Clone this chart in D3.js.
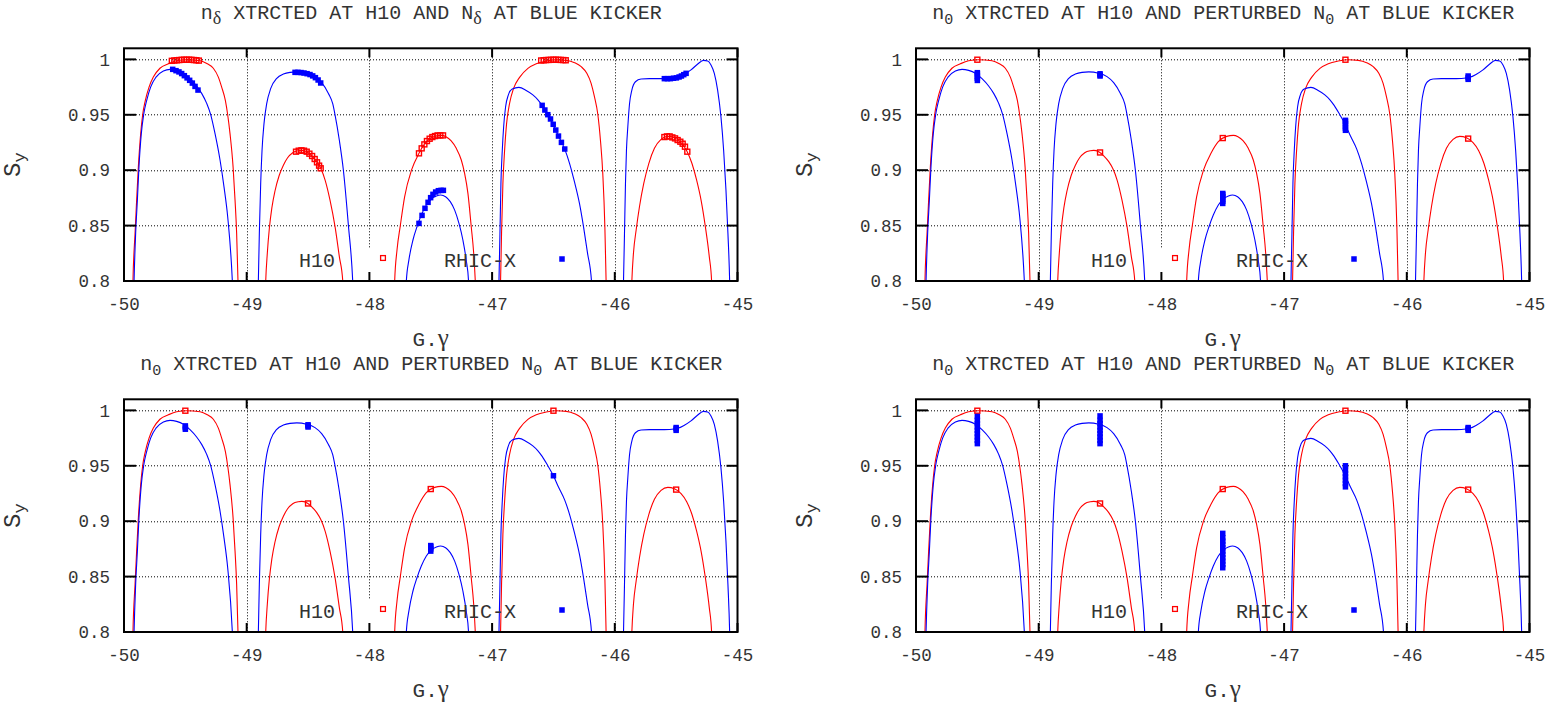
<!DOCTYPE html>
<html><head><meta charset="utf-8">
<script src="https://cdn.jsdelivr.net/npm/d3@7"></script>
<style>
body{margin:0;background:#fff;}
svg{display:block;}
text{font-family:"Liberation Mono","Courier New",monospace;fill:#333;}
</style>
</head><body>
<svg id="chart" width="1546" height="706"></svg>
<script>
// ---------------- DATA ----------------
const xTicks = [-50, -49, -48, -47, -46, -45];
const xTickLabels = ["-50", "-49", "-48", "-47", "-46", "-45"];
const yTicks = [0.8, 0.85, 0.9, 0.95, 1];
const yTickLabels = ["0.8", "0.85", "0.9", "0.95", "1"];
const seriesNames = ["H10", "RHIC-X"];
const xLabel = ["G.", "γ"];
const yLabel = ["S", "y"];

// titles: [text, isSubscript]
const titleDelta = [["n", 0], ["δ", 1], [" XTRCTED AT H10 AND N", 0], ["δ", 1], [" AT BLUE KICKER", 0]];
const titleZero = [["n", 0], ["0", 1], [" XTRCTED AT H10 AND PERTURBED N", 0], ["0", 1], [" AT BLUE KICKER", 0]];

// H10 (red) spin curves, one per arch
const h10Arch1 = [[-49.929,0.79],[-49.927,0.80],[-49.910,0.843],[-49.897,0.873],[-49.883,0.903],[-49.864,0.933],[-49.848,0.950],[-49.826,0.963],[-49.796,0.975],[-49.761,0.984],[-49.707,0.992],[-49.639,0.996],[-49.571,0.9988],[-49.489,0.9997],[-49.380,0.9988],[-49.321,0.996],[-49.272,0.992],[-49.231,0.984],[-49.204,0.975],[-49.174,0.963],[-49.155,0.950],[-49.136,0.933],[-49.111,0.903],[-49.095,0.873],[-49.082,0.843],[-49.071,0.800],[-49.069,0.79]];
const h10Arch2 = [[-48.848,0.79],[-48.845,0.80],[-48.832,0.825],[-48.815,0.848],[-48.795,0.866],[-48.770,0.881],[-48.736,0.895],[-48.701,0.9045],[-48.668,0.911],[-48.625,0.9158],[-48.579,0.9176],[-48.552,0.9179],[-48.511,0.9167],[-48.470,0.913],[-48.429,0.9077],[-48.397,0.9017],[-48.361,0.8911],[-48.321,0.873],[-48.280,0.849],[-48.245,0.822],[-48.217,0.800],[-48.212,0.79]];
const h10Arch3 = [[-47.797,0.79],[-47.794,0.80],[-47.775,0.828],[-47.748,0.85],[-47.713,0.876],[-47.657,0.900],[-47.596,0.9152],[-47.536,0.9257],[-47.468,0.9305],[-47.414,0.9314],[-47.376,0.9302],[-47.335,0.9266],[-47.292,0.9197],[-47.251,0.9092],[-47.224,0.8971],[-47.197,0.8791],[-47.170,0.849],[-47.150,0.825],[-47.137,0.800],[-47.133,0.79]];
const h10Arch4 = [[-46.934,0.79],[-46.931,0.80],[-46.923,0.843],[-46.912,0.888],[-46.898,0.918],[-46.882,0.942],[-46.858,0.960],[-46.825,0.9738],[-46.776,0.9838],[-46.708,0.9919],[-46.640,0.9961],[-46.559,0.9985],[-46.477,0.9997],[-46.396,0.9991],[-46.328,0.997],[-46.274,0.9934],[-46.228,0.9874],[-46.193,0.9783],[-46.166,0.9663],[-46.138,0.950],[-46.117,0.927],[-46.098,0.897],[-46.081,0.849],[-46.071,0.800],[-46.069,0.79]];
const h10Arch5 = [[-45.864,0.79],[-45.861,0.80],[-45.848,0.825],[-45.826,0.846],[-45.799,0.867],[-45.764,0.888],[-45.723,0.906],[-45.677,0.9197],[-45.623,0.9278],[-45.568,0.9305],[-45.514,0.9293],[-45.460,0.9248],[-45.414,0.9176],[-45.371,0.906],[-45.333,0.891],[-45.297,0.873],[-45.262,0.849],[-45.230,0.822],[-45.211,0.800],[-45.208,0.79]];

// RHIC-X (blue) spin curves
const rhicArch1 = [[-49.920,0.79],[-49.918,0.80],[-49.905,0.843],[-49.891,0.873],[-49.878,0.903],[-49.859,0.933],[-49.840,0.950],[-49.815,0.963],[-49.783,0.975],[-49.739,0.984],[-49.679,0.9895],[-49.625,0.991],[-49.571,0.9901],[-49.516,0.9875],[-49.462,0.9826],[-49.408,0.976],[-49.367,0.9693],[-49.326,0.9603],[-49.293,0.950],[-49.258,0.933],[-49.217,0.909],[-49.185,0.885],[-49.155,0.858],[-49.117,0.800],[-49.113,0.79]];
const rhicArch2 = [[-48.907,0.79],[-48.905,0.80],[-48.897,0.843],[-48.886,0.888],[-48.875,0.918],[-48.859,0.942],[-48.837,0.960],[-48.804,0.9738],[-48.755,0.9829],[-48.701,0.9868],[-48.647,0.9883],[-48.592,0.9887],[-48.511,0.9875],[-48.443,0.9844],[-48.389,0.979],[-48.334,0.9693],[-48.299,0.960],[-48.280,0.950],[-48.245,0.927],[-48.212,0.900],[-48.171,0.850],[-48.136,0.800],[-48.132,0.79]];
const rhicArch3 = [[-47.702,0.79],[-47.699,0.80],[-47.678,0.819],[-47.645,0.837],[-47.612,0.849],[-47.577,0.8595],[-47.536,0.8686],[-47.495,0.874],[-47.454,0.8767],[-47.419,0.8776],[-47.379,0.8761],[-47.341,0.8716],[-47.305,0.864],[-47.270,0.852],[-47.238,0.837],[-47.211,0.819],[-47.192,0.800],[-47.189,0.79]];
const rhicArch4 = [[-46.946,0.79],[-46.944,0.80],[-46.936,0.843],[-46.928,0.888],[-46.917,0.918],[-46.906,0.939],[-46.890,0.9573],[-46.868,0.9678],[-46.836,0.9732],[-46.782,0.9747],[-46.722,0.9720],[-46.668,0.9680],[-46.630,0.9640],[-46.592,0.9585],[-46.546,0.9501],[-46.502,0.9414],[-46.459,0.9308],[-46.408,0.919],[-46.369,0.9062],[-46.329,0.8896],[-46.288,0.870],[-46.255,0.849],[-46.222,0.825],[-46.190,0.800],[-46.187,0.79]];
const rhicArch5 = [[-45.931,0.79],[-45.929,0.80],[-45.921,0.843],[-45.913,0.888],[-45.905,0.918],[-45.894,0.939],[-45.880,0.960],[-45.861,0.9723],[-45.832,0.9798],[-45.786,0.9823],[-45.718,0.9826],[-45.637,0.9826],[-45.555,0.9828],[-45.487,0.9838],[-45.433,0.9866],[-45.379,0.9905],[-45.324,0.9958],[-45.278,0.9991],[-45.243,0.9985],[-45.216,0.9949],[-45.189,0.9874],[-45.162,0.9723],[-45.135,0.9483],[-45.113,0.918],[-45.094,0.882],[-45.078,0.843],[-45.064,0.800],[-45.062,0.79]];

// Panel 1 (n_delta) extracted points
const p1H10 = [[-49.61,0.9987],[-49.59,0.9990],[-49.57,0.9992],[-49.55,0.9994],[-49.53,0.9996],[-49.51,0.9997],[-49.49,0.9997],[-49.47,0.9997],[-49.45,0.9996],[-49.43,0.9994],[-49.41,0.9992],[-49.39,0.9989],
  [-48.598,0.9167],[-48.576,0.9176],[-48.554,0.9179],[-48.533,0.9176],[-48.511,0.9167],[-48.489,0.9149],[-48.467,0.9128],[-48.446,0.9101],[-48.427,0.9071],[-48.410,0.9041],[-48.397,0.9017],
  [-47.596,0.9152],[-47.574,0.9197],[-47.552,0.9233],[-47.531,0.9263],[-47.509,0.9284],[-47.487,0.9299],[-47.465,0.9308],[-47.444,0.9314],[-47.422,0.9314],[-47.400,0.9314],
  [-46.60,0.9990],[-46.58,0.9992],[-46.56,0.9994],[-46.54,0.9995],[-46.52,0.9996],[-46.50,0.9997],[-46.48,0.9997],[-46.46,0.9996],[-46.44,0.9995],[-46.42,0.9994],[-46.40,0.9992],
  [-45.596,0.9299],[-45.575,0.9305],[-45.553,0.9305],[-45.531,0.9296],[-45.509,0.9287],[-45.488,0.9272],[-45.466,0.9257],[-45.447,0.9239],[-45.428,0.9212],[-45.409,0.9167]];
const p1Rhic = [[-49.603,0.9910],[-49.576,0.9898],[-49.552,0.9887],[-49.530,0.9872],[-49.508,0.9853],[-49.486,0.9833],[-49.465,0.9811],[-49.443,0.9786],[-49.421,0.9756],[-49.397,0.9723],
  [-48.606,0.9883],[-48.582,0.9883],[-48.557,0.9881],[-48.533,0.9877],[-48.508,0.9871],[-48.484,0.9863],[-48.462,0.9851],[-48.440,0.9835],[-48.418,0.9814],[-48.397,0.9787],
  [-47.596,0.8520],[-47.571,0.8592],[-47.547,0.8656],[-47.522,0.8710],[-47.501,0.8752],[-47.482,0.8782],[-47.460,0.8803],[-47.438,0.8815],[-47.416,0.8818],[-47.397,0.8818],
  [-46.592,0.9585],[-46.570,0.9543],[-46.546,0.9501],[-46.524,0.9462],[-46.502,0.9414],[-46.481,0.9362],[-46.459,0.9308],[-46.435,0.9251],[-46.408,0.9191],
  [-45.596,0.9826],[-45.571,0.9826],[-45.547,0.9826],[-45.522,0.9830],[-45.498,0.9833],[-45.476,0.9841],[-45.457,0.9850],[-45.438,0.9862],[-45.419,0.9874]];

// Panels 2-4 (n_0, perturbed N_0) extracted points
const pH10Single = [[-49.5,0.9997],[-48.5,0.916],[-47.5,0.929],[-46.5,0.9997],[-45.5,0.9285]];
const p2Rhic = [[-49.5,0.981],[-49.5,0.983],[-49.5,0.985],[-49.5,0.987],[-49.5,0.988],
  [-48.5,0.985],[-48.5,0.986],[-48.5,0.987],
  [-47.5,0.870],[-47.5,0.872],[-47.5,0.874],[-47.5,0.876],[-47.5,0.878],[-47.5,0.879],
  [-46.5,0.936],[-46.5,0.938],[-46.5,0.940],[-46.5,0.942],[-46.5,0.944],[-46.5,0.945],
  [-45.5,0.982],[-45.5,0.9835],[-45.5,0.985]];
const p3Rhic = [[-49.5,0.983],[-49.5,0.9845],[-49.5,0.986],
  [-48.5,0.985],[-48.5,0.986],[-48.5,0.987],
  [-47.5,0.873],[-47.5,0.875],[-47.5,0.877],[-47.5,0.878],
  [-46.5,0.941],
  [-45.5,0.982],[-45.5,0.9835],[-45.5,0.9845]];
const p4Rhic = [[-49.5,0.970],[-49.5,0.973],[-49.5,0.976],[-49.5,0.979],[-49.5,0.982],[-49.5,0.985],[-49.5,0.988],[-49.5,0.991],[-49.5,0.9945],
  [-48.5,0.970],[-48.5,0.973],[-48.5,0.976],[-48.5,0.979],[-48.5,0.982],[-48.5,0.985],[-48.5,0.988],[-48.5,0.991],[-48.5,0.995],
  [-47.5,0.858],[-47.5,0.861],[-47.5,0.864],[-47.5,0.867],[-47.5,0.870],[-47.5,0.873],[-47.5,0.876],[-47.5,0.879],[-47.5,0.882],[-47.5,0.885],[-47.5,0.889],
  [-46.5,0.931],[-46.5,0.934],[-46.5,0.937],[-46.5,0.940],[-46.5,0.943],[-46.5,0.946],[-46.5,0.950],
  [-45.5,0.982],[-45.5,0.9835],[-45.5,0.9845]];

// ---------------- LAYOUT / STYLE ----------------
const h10Arches = [h10Arch1, h10Arch2, h10Arch3, h10Arch4, h10Arch5];
const rhicArches = [rhicArch1, rhicArch2, rhicArch3, rhicArch4, rhicArch5];
const panels = [
  {left:124, top:48.3, title:titleDelta, h10:p1H10, rhic:p1Rhic},
  {left:916, top:48.3, title:titleZero, h10:pH10Single, rhic:p2Rhic},
  {left:124, top:399.3, title:titleZero, h10:pH10Single, rhic:p3Rhic},
  {left:916, top:399.3, title:titleZero, h10:pH10Single, rhic:p4Rhic}
];
const PW = 613.5, PH = 232.7;
const RED = "#ff0000", BLUE = "#0000ff";
const SERIF = "'Liberation Serif','DejaVu Serif',serif";

const svg = d3.select("#chart");

panels.forEach((p, i) => {
  const g = svg.append("g").attr("transform", `translate(${p.left},${p.top})`);
  const x = d3.scaleLinear().domain([-50, -45]).range([0, PW]);
  const y = d3.scaleLinear().domain([0.8, 1.01]).range([PH, 0]);

  const clipId = "clip" + i;
  g.append("clipPath").attr("id", clipId).append("rect").attr("width", PW).attr("height", PH);

  // grid
  const grid = g.append("g").attr("stroke", "#000").attr("stroke-width", 1).attr("stroke-dasharray", "1,2");
  grid.selectAll("line.h").data(yTicks.filter(v => v > 0.8 && v < 1.01)).join("line")
    .attr("x1", 0).attr("x2", PW).attr("y1", d => Math.round(y(d)) + 0.5).attr("y2", d => Math.round(y(d)) + 0.5);
  grid.selectAll("line.v").data(xTicks.filter(v => v > -50 && v < -45)).join("line")
    .attr("y1", 0).attr("y2", PH).attr("x1", d => Math.round(x(d)) + 0.5).attr("x2", d => Math.round(x(d)) + 0.5);

  // opaque key box
  g.append("rect").attr("x", 165).attr("y", PH - 33).attr("width", 305).attr("height", 33).attr("fill", "#fff");

  const line = d3.line().x(d => x(d[0])).y(d => y(d[1])).curve(d3.curveMonotoneX);
  const curves = g.append("g").attr("clip-path", `url(#${clipId})`).attr("fill", "none").attr("stroke-width", 1.1);
  curves.selectAll("path.r").data(h10Arches).join("path").attr("stroke", RED).attr("d", line);
  curves.selectAll("path.b").data(rhicArches).join("path").attr("stroke", BLUE).attr("d", line);

  // markers
  const mk = g.append("g");
  mk.selectAll("rect.r").data(p.h10).join("rect")
    .attr("x", d => x(d[0]) - 2.5).attr("y", d => y(d[1]) - 2.5)
    .attr("width", 5).attr("height", 5).attr("fill", "none").attr("stroke", RED).attr("stroke-width", 1.4);
  mk.selectAll("rect.b").data(p.rhic).join("rect")
    .attr("x", d => x(d[0]) - 2.75).attr("y", d => y(d[1]) - 2.75)
    .attr("width", 5.5).attr("height", 5.5).attr("fill", BLUE);

  // key
  g.append("text").attr("x", 211).attr("y", PH - 14).attr("text-anchor", "end").style("font-size", "20px").text(seriesNames[0]);
  g.append("rect").attr("x", 259 - 2.4).attr("y", PH - 23 - 2.4).attr("width", 4.8).attr("height", 4.8)
    .attr("fill", "none").attr("stroke", RED).attr("stroke-width", 1.3);
  g.append("text").attr("x", 392).attr("y", PH - 14).attr("text-anchor", "end").style("font-size", "20px").text(seriesNames[1]);
  g.append("rect").attr("x", 438 - 2.75).attr("y", PH - 22 - 2.75).attr("width", 5.5).attr("height", 5.5).attr("fill", BLUE);

  // border
  g.append("rect").attr("width", PW).attr("height", PH).attr("fill", "none").attr("stroke", "#000").attr("stroke-width", 2);

  // ticks (mirrored, inward)
  const tk = g.append("g").attr("stroke", "#000").attr("stroke-width", 2);
  xTicks.forEach(v => {
    tk.append("line").attr("x1", x(v)).attr("x2", x(v)).attr("y1", PH).attr("y2", PH - 9);
    tk.append("line").attr("x1", x(v)).attr("x2", x(v)).attr("y1", 0).attr("y2", 9);
  });
  yTicks.forEach(v => {
    tk.append("line").attr("y1", y(v)).attr("y2", y(v)).attr("x1", 0).attr("x2", 12);
    tk.append("line").attr("y1", y(v)).attr("y2", y(v)).attr("x1", PW).attr("x2", PW - 11);
  });

  // tick labels
  g.selectAll("text.xt").data(xTicks).join("text")
    .attr("x", d => x(d)).attr("y", PH + 29).attr("text-anchor", "middle").style("font-size", "17.5px")
    .text((d, j) => xTickLabels[j]);
  g.selectAll("text.yt").data(yTicks).join("text")
    .attr("x", -14).attr("y", d => y(d)).attr("dy", "0.36em").attr("text-anchor", "end").style("font-size", "17.5px")
    .text((d, j) => yTickLabels[j]);

  // x label
  const xl = g.append("text").attr("x", PW / 2).attr("y", PH + 65.5).attr("text-anchor", "middle").style("font-size", "21px");
  xl.append("tspan").text(xLabel[0]);
  xl.append("tspan").style("font-family", SERIF).style("font-size", "25px").text(xLabel[1]);

  // y label (S with subscript y)
  const yl = g.append("text").attr("transform", `translate(-104,${PH / 2}) rotate(-90)`).attr("text-anchor", "middle").style("font-size", "24px");
  yl.append("tspan").text(yLabel[0]);
  yl.append("tspan").attr("dy", 5).style("font-size", "17px").text(yLabel[1]);

  // title
  const tt = g.append("text").attr("x", PW / 2 + 0.5).attr("y", -29.8).attr("text-anchor", "middle").style("font-size", "20px");
  let shifted = false;
  p.title.forEach(([t, sub]) => {
    const ts = tt.append("tspan").text(t);
    if (sub && !shifted) {
      ts.attr("dy", 5).style("font-size", "15px"); shifted = true;
      if (t === "δ") ts.style("font-family", SERIF).style("font-size", "18px");
    } else if (!sub && shifted) { ts.attr("dy", -5); shifted = false; }
  });
});
</script>
</body></html>
